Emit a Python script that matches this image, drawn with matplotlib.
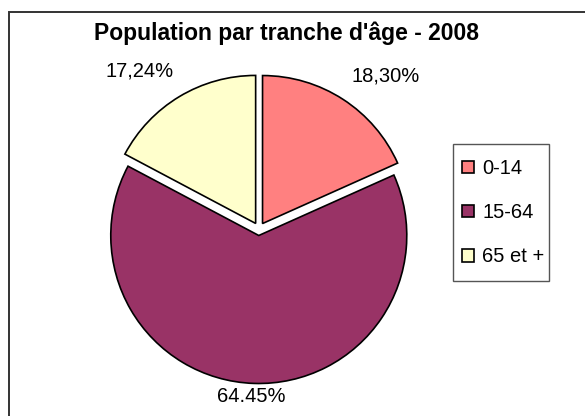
import matplotlib
matplotlib.use("Agg")
import matplotlib.pyplot as plt
from matplotlib.patches import Rectangle

plt.rcParams["font.family"] = ["Liberation Sans", "DejaVu Sans"]

# data
categories = ["0-14", "15-64", "65 et +"]
shares = [18.30, 64.45, 17.24]
pct_labels = ["18,30%", "64.45%", "17,24%"]
colors = ["#FF8080", "#993366", "#FFFFCC"]

W, H = 585, 416
fig = plt.figure(figsize=(W / 100, H / 100), dpi=100)
# axes in pixel units over the whole figure (y up)
ax = fig.add_axes([0, 0, 1, 1])

# outer chart frame
fig.patches.append(Rectangle((9 / W, -0.1), 2, (H - 12) / H + 0.1,
                             transform=fig.transFigure, fill=False,
                             edgecolor="#333333", linewidth=1.4))

cx, cy, r = 259, H - 229, 148
# explode is in data units here (pixels)
wedges, _ = ax.pie(shares, colors=colors, startangle=90, counterclock=False,
                   explode=[6.5] * 3, center=(cx, cy), radius=r,
                   wedgeprops=dict(edgecolor="black", linewidth=1.2),
                   frame=True)
ax.set_xlim(0, W)
ax.set_ylim(0, H)
ax.set_aspect("equal")
ax.axis("off")

# label spots (pixels, from top-left of the picture)
label_pos = [(386, 76), (251, 397), (140, 71)]
for txt, (x, y) in zip(pct_labels, label_pos):
    ax.text(x, H - y, txt, ha="center", va="center", fontsize=14.5)

fig.text(287 / W, 1 - 33 / H, "Population par tranche d'âge - 2008",
         ha="center", va="center", fontsize=16.5, fontweight="bold")

# legend box drawn by hand, entries by the legend itself
ax.add_patch(Rectangle((453, H - 281), 96, 137, facecolor="white",
                       edgecolor="#555555", linewidth=1.0, zorder=3,
                       clip_on=False))
leg = ax.legend(wedges, categories, loc="upper left",
                bbox_to_anchor=(462 / W, 1 - 159 / H),
                bbox_transform=fig.transFigure, fontsize=14.5,
                frameon=False, handlelength=0.6, handleheight=0.6,
                handletextpad=0.4, labelspacing=1.25, borderpad=0,
                borderaxespad=0)
leg.set_zorder(5)

fig.savefig("out.png", dpi=100, facecolor="white")
